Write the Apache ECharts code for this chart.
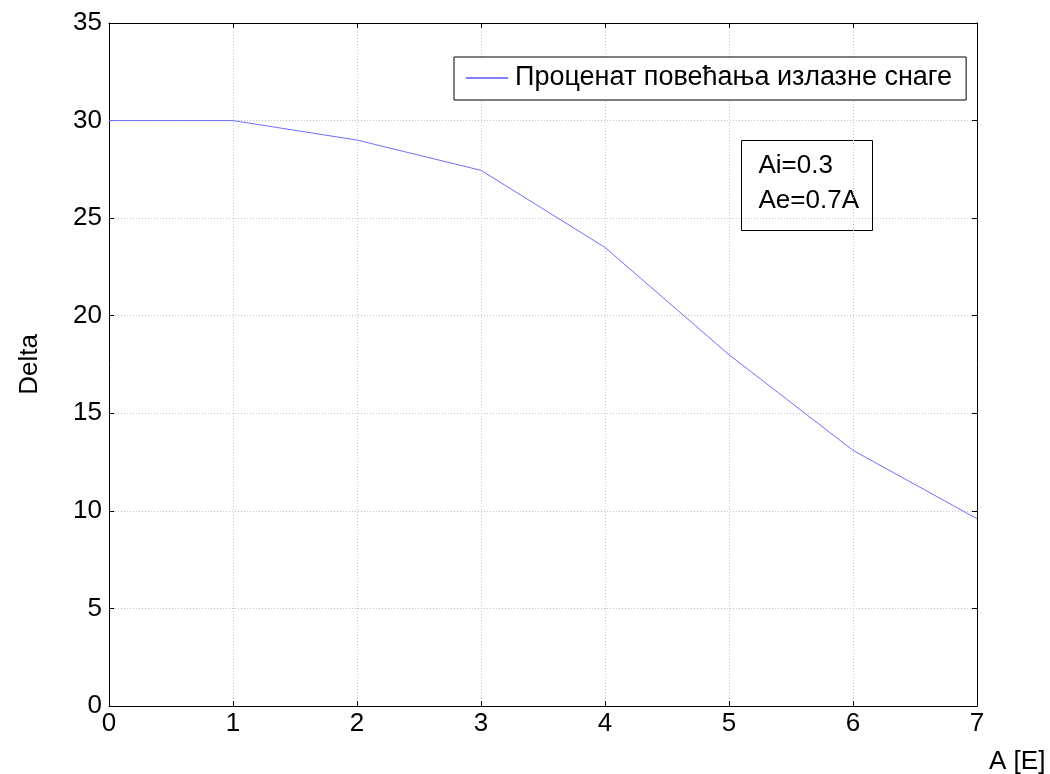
<!DOCTYPE html>
<html>
<head>
<meta charset="utf-8">
<script src="https://cdn.jsdelivr.net/npm/echarts@6/dist/echarts.min.js"></script>
<style>html,body{margin:0;padding:0;background:#fff}#c{width:1050px;height:774px}</style>
</head>
<body>
<div id="c"></div>
<script>
const xValues = [0, 1, 2, 3, 4, 5, 6, 7];
const deltaValues = [30, 30, 29, 27.45, 23.5, 18, 13.1, 9.6];
const seriesName = 'Проценат повећања излазне снаге';
const annotationLines = ['Ai=0.3', 'Ae=0.7A'];

const chart = echarts.init(document.getElementById('c'));
const font = 'Liberation Sans, Arial, sans-serif';
const fs = 26;
const gridLine = {show: true, lineStyle: {color: '#c4c4c4', type: [1, 2], width: 1}};
const axisLine = {show: true, onZero: false, lineStyle: {color: '#000', width: 1}};
const ticks = {show: true, inside: true, length: 5, lineStyle: {color: '#000'}};
option = {
  animation: false,
  backgroundColor: '#fff',
  grid: {left: 109, top: 23, right: 73, bottom: 68, show: false, containLabel: false, outerBoundsMode: 'none'},
  xAxis: [{
    type: 'value', min: 0, max: 7, interval: 1,
    axisLine: axisLine, axisTick: ticks, splitLine: gridLine,
    axisLabel: {color: '#000', fontSize: fs, fontFamily: font, margin: 5},
    name: 'A [E]', nameLocation: 'end', nameGap: 0,
    nameTextStyle: {color: '#000', fontSize: fs, fontFamily: font, align: 'left', verticalAlign: 'top', padding: [43, 0, 0, 12]}
  }, {
    type: 'value', min: 0, max: 7, interval: 1, position: 'top',
    axisLine: axisLine, axisTick: ticks, splitLine: {show: false}, axisLabel: {show: false}
  }],
  yAxis: [{
    type: 'value', min: 0, max: 35, interval: 5,
    axisLine: axisLine, axisTick: ticks, splitLine: gridLine,
    axisLabel: {color: '#000', fontSize: fs, fontFamily: font, margin: 7},
    name: 'Delta', nameLocation: 'middle', nameGap: 66, nameRotate: 90,
    nameTextStyle: {color: '#000', fontSize: fs, fontFamily: font}
  }, {
    type: 'value', min: 0, max: 35, interval: 5, position: 'right',
    axisLine: axisLine, axisTick: ticks, splitLine: {show: false}, axisLabel: {show: false}
  }],
  legend: {
    show: true, left: 454, top: 57,
    backgroundColor: '#fff', borderColor: '#000', borderWidth: 1, borderRadius: 0,
    padding: [6, 14, 7, 12],
    itemWidth: 42, itemHeight: 1, icon: 'rect',
    textStyle: {color: '#000', fontSize: 27, fontFamily: font, lineHeight: 30, padding: [0, 0, 0, 2]},
    data: [{name: seriesName, itemStyle: {color: '#0000ff'}}]
  },
  graphic: [{
    type: 'group', left: 741, top: 140,
    children: [
      {type: 'rect', shape: {x: 0, y: 0, width: 131, height: 90}, style: {fill: '#fff', stroke: '#000', lineWidth: 1}},
      {type: 'text', x: 17, y: 8, style: {text: annotationLines.join('\n'), fill: '#000', font: fs + 'px ' + font, lineHeight: 35}}
    ]
  }],
  series: [{
    name: seriesName, type: 'line', xAxisIndex: 0, yAxisIndex: 0,
    data: xValues.map((x, i) => [x, deltaValues[i]]),
    showSymbol: false, symbol: 'none',
    lineStyle: {color: '#6f6fff', width: 1},
    itemStyle: {color: '#0000ff'}
  }]
};
chart.setOption(option);
</script>
</body>
</html>
